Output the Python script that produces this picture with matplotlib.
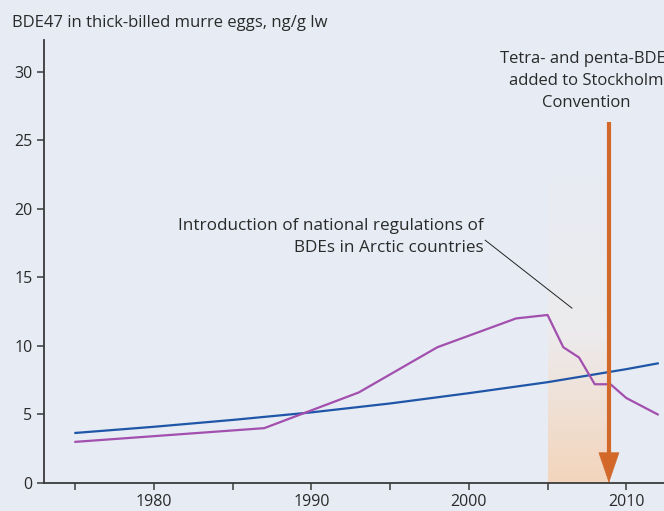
import numpy as np
import matplotlib
matplotlib.use("Agg")
import matplotlib.pyplot as plt
from matplotlib.colors import LinearSegmentedColormap

plt.rcParams['font.family'] = ['Open Sans', 'DejaVu Sans']

# data
murre_years = [1975, 1987, 1993, 1998, 2003, 2005, 2006, 2007, 2008, 2009, 2010, 2011, 2012]
murre_bde47 = [3.0, 4.0, 6.6, 9.9, 12.0, 12.25, 9.9, 9.15, 7.2, 7.2, 6.2, 5.6, 5.0]
trend_years = [1975, 1980, 1985, 1990, 1995, 2000, 2005, 2010, 2012]
trend_bde47 = [3.65, 4.1, 4.6, 5.15, 5.8, 6.55, 7.35, 8.3, 8.72]
ytick_vals = [0, 5, 10, 15, 20, 25, 30]
xtick_major = [1980, 1990, 2000, 2010]
xtick_minor = [1975, 1985, 1995, 2005]

regulation_start = 2005
stockholm_year = 2008.9

bg = '#e6ebf4'
axc = '#3a3a3a'
txt = '#2a2a2a'

fig = plt.figure(figsize=(6.64, 5.11), dpi=100, facecolor=bg)
ax = fig.add_axes([43.5/664, 28/511, 1 - 43.5/664, 443/511])
ax.set_facecolor(bg)

ax.set_xlim(1972.97, 2012.4)
ax.set_ylim(0, 32.3)

# gradient band for regulation period
cmap = LinearSegmentedColormap.from_list('band', ['#f3d5bc', '#ecebed', '#e8ebf3'])
grad = np.linspace(0, 1, 256).reshape(-1, 1)
ax.imshow(grad, cmap=cmap, origin='lower', aspect='auto',
          extent=[regulation_start, stockholm_year, 0, 22], zorder=1)

ax.plot(trend_years, trend_bde47, color='#1f56a8', lw=1.6, zorder=3)
ax.plot(murre_years, murre_bde47, color='#a24fae', lw=1.6, zorder=3)

# arrow for Stockholm Convention
ax.plot([stockholm_year, stockholm_year], [26.3, 1.5], color='#d2692a', lw=3,
        solid_capstyle='butt', zorder=4)
ax.annotate('', xy=(stockholm_year, 0.0), xytext=(stockholm_year, 2.0),
            arrowprops=dict(arrowstyle='-|>,head_length=1.05,head_width=0.36',
                            color='#d2692a', lw=0.5, mutation_scale=20,
                            joinstyle='miter', shrinkA=0, shrinkB=0), zorder=4)
ax.text(2007.48, 29.34, 'Tetra- and penta-BDEs\nadded to Stockholm\nConvention',
        ha='center', va='center', fontsize=12, color=txt, linespacing=1.5)

ax.plot([2001.04, 2006.55], [17.7, 12.75], color='#222222', lw=0.7, zorder=4)
ax.text(2000.95, 17.9, 'Introduction of national regulations of\nBDEs in Arctic countries',
        ha='right', va='center', fontsize=12.3, color=txt, linespacing=1.5)

fig.text(12/664, 1 - 23/511, 'BDE47 in thick-billed murre eggs, ng/g lw',
         ha='left', va='center', fontsize=12, color=txt)

for s in ['top', 'right']:
    ax.spines[s].set_visible(False)
for s in ['left', 'bottom']:
    ax.spines[s].set_color(axc)
    ax.spines[s].set_linewidth(1.3)

ax.set_yticks(ytick_vals)
ax.set_xticks(xtick_major)
ax.set_xticks(xtick_minor, minor=True)
ax.tick_params(axis='y', direction='out', length=5, width=1.1, color=axc,
               labelsize=11.5, labelcolor=txt, pad=3)
ax.tick_params(axis='x', which='both', direction='out', length=5, width=1.1,
               color=axc, labelsize=11.5, labelcolor=txt, pad=3)

fig.savefig('out.png', dpi=100, facecolor=bg)
